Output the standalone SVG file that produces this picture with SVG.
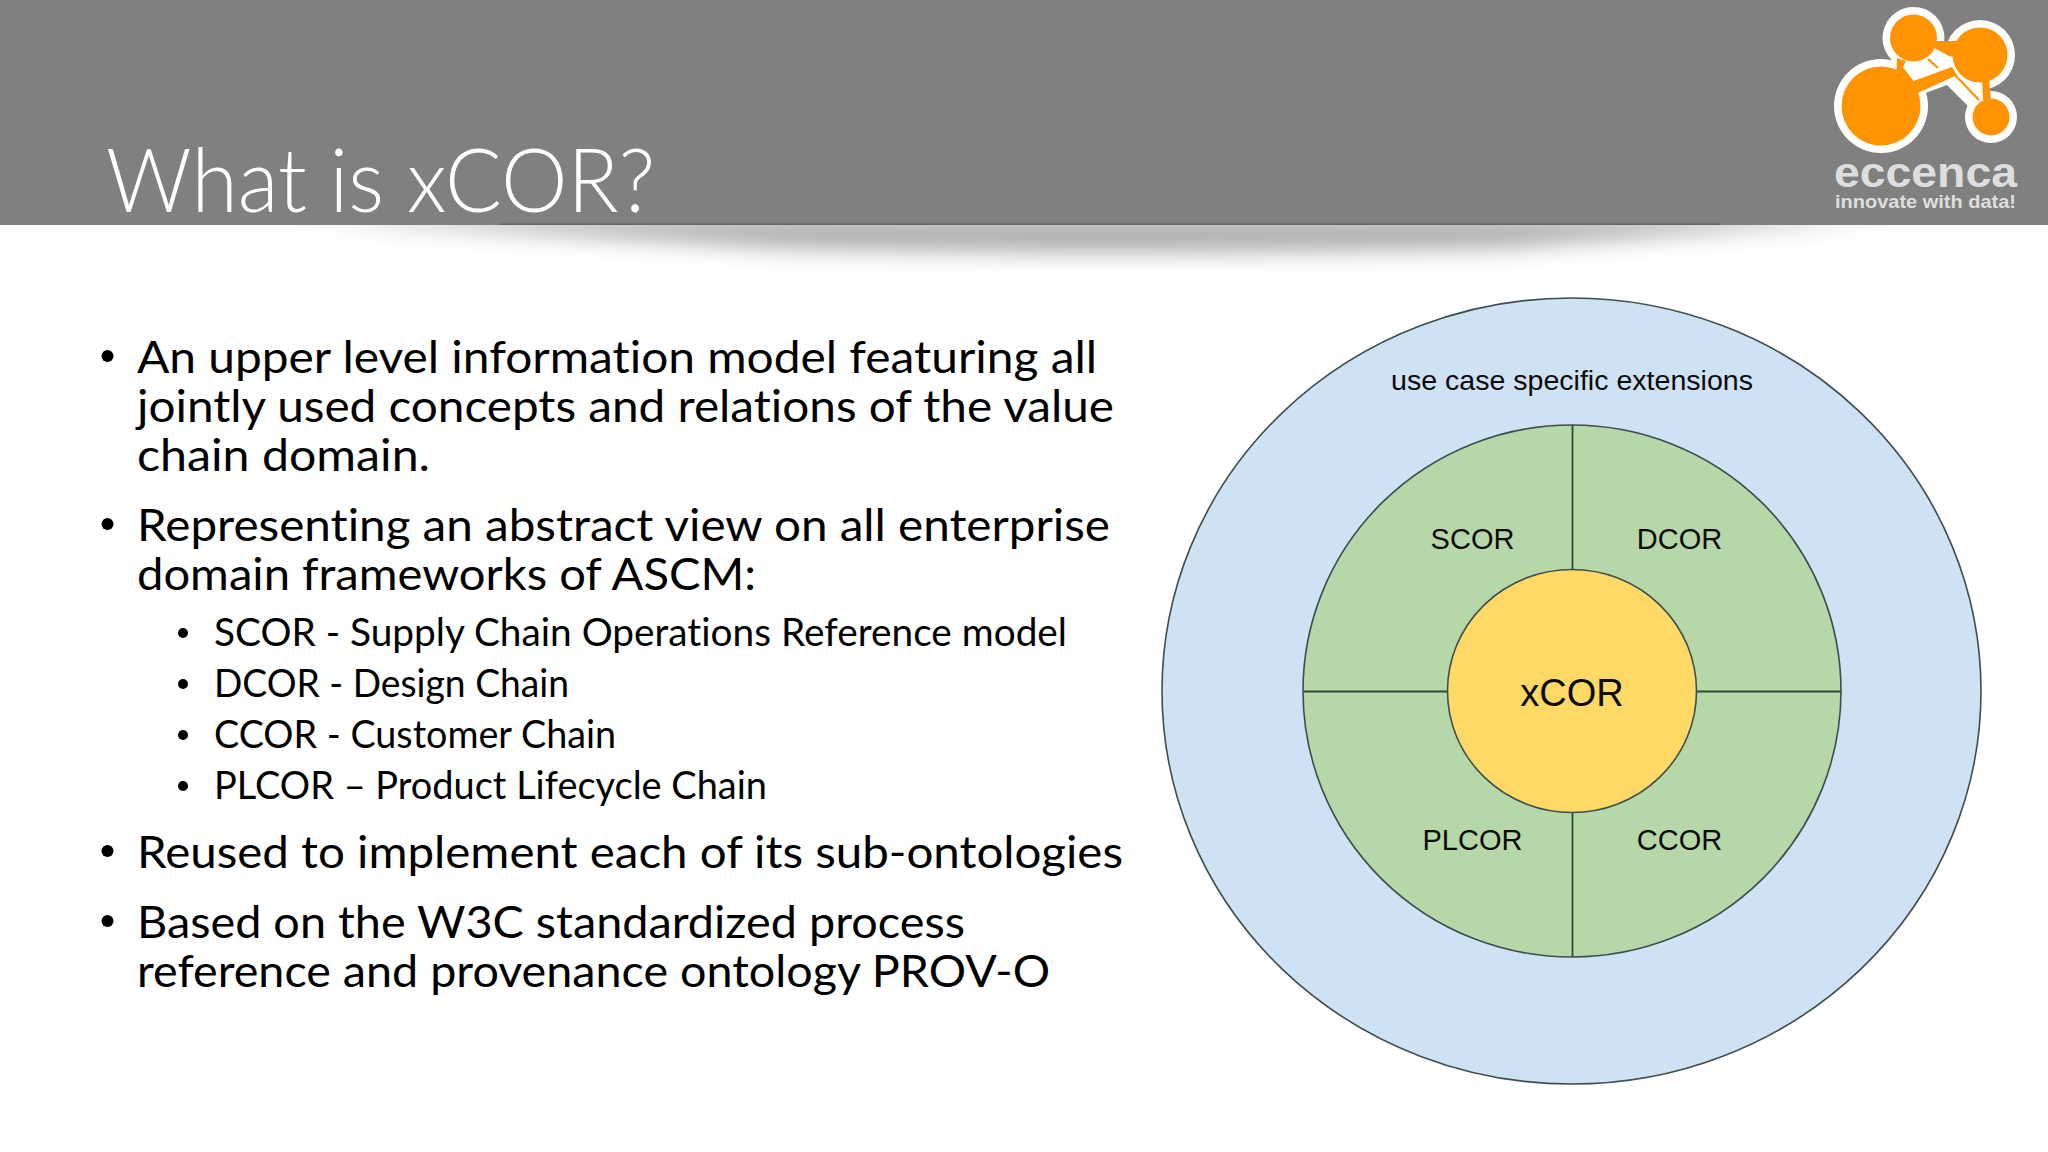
<svg xmlns="http://www.w3.org/2000/svg" width="2048" height="1152" viewBox="0 0 2048 1152">
<defs>
<filter id="blur" x="-10%" y="-200%" width="120%" height="500%"><feGaussianBlur stdDeviation="11"/></filter>
</defs>
<style>
text{font-variant-ligatures:none}
.t{font-family:Lato,"Liberation Sans",sans-serif;fill:#000}
.b{font-size:44px}
.s{font-size:39px}
.d{font-family:"Liberation Sans",Arial,sans-serif;fill:#0b0b0b;text-anchor:middle}
.q{font-size:29px}
.ring{stroke:#3f4d4f;stroke-width:1.6}
.div{stroke:#2f4a3a;stroke-width:1.8;fill:none}
.o{fill:#ff9300}
.w{fill:#fff}
.ol{stroke:#ff9300;stroke-width:2.200;fill:none}
</style>
<rect width="2048" height="1152" fill="#fff"/>
<path d="M300 218H1880L1500 248Q1100 256 780 248Z" fill="#000" fill-opacity=".32" filter="url(#blur)"/>
<rect id="header" width="2048" height="225" fill="#808080"/>
<rect x="500" y="223.500" width="1220" height="1.500" fill="#666"/>
<text id="title" x="106" y="212" font-family="Lato,'Liberation Sans',sans-serif" font-weight="300" font-size="89" fill="#fff" textLength="549" lengthAdjust="spacingAndGlyphs">What is xCOR?</text>

<g id="logo">
<circle class="w" cx="1881" cy="106" r="47"/><circle class="w" cx="1913.500" cy="38" r="31"/><circle class="w" cx="1980" cy="55" r="35"/><circle class="w" cx="1991" cy="117" r="26"/>
<path class="w" d="M1893 58L1930 45L1950 42L1975 70L2000 105L1985 125L1967 105L1947 85L1920 95L1905 105Z"/>
<path class="o" d="M1897 58L1906 61L1903 67L1913.500 81L1952 67L1957 75L1920 92L1895 105Z"/>
<path class="o" d="M1932 41L1956 41L1958 57L1950 56.500L1935 48.500Z"/>
<path class="o" d="M1982 78L1989 78L1991 100L1983 100Z"/>
<circle class="o" cx="1881" cy="106" r="39.500"/><circle class="o" cx="1913.500" cy="38" r="23.500"/><circle class="o" cx="1980" cy="55" r="27.500"/><circle class="o" cx="1991" cy="117" r="18.500"/>
<path class="ol" d="M1928 59L1938 68M1955 75L1979 100"/>
<text x="1834" y="187" font-family="'Liberation Sans',Arial,sans-serif" font-weight="700" font-size="42" fill="#dedede" textLength="183" lengthAdjust="spacingAndGlyphs">eccenca</text>
<text x="1835" y="208" font-family="'Liberation Sans',Arial,sans-serif" font-weight="700" font-size="18.500" fill="#dedede" textLength="181" lengthAdjust="spacingAndGlyphs">innovate with data!</text>
</g>

<g id="bullets">
<circle cx="107.500" cy="356" r="6"/><circle cx="107.500" cy="524" r="6"/><circle cx="107.500" cy="851" r="6"/><circle cx="107.500" cy="921" r="6"/>
<circle cx="183" cy="633" r="5"/><circle cx="183" cy="684" r="5"/><circle cx="183" cy="735" r="5"/><circle cx="183" cy="786" r="5"/>
<text class="t b" x="137" y="373" textLength="960" lengthAdjust="spacingAndGlyphs">An upper level information model featuring all</text>
<text class="t b" x="137" y="422" textLength="977" lengthAdjust="spacingAndGlyphs">jointly used concepts and relations of the value</text>
<text class="t b" x="137" y="471" textLength="293" lengthAdjust="spacingAndGlyphs">chain domain.</text>
<text class="t b" x="137" y="541" textLength="973" lengthAdjust="spacingAndGlyphs">Representing an abstract view on all enterprise</text>
<text class="t b" x="137" y="590" textLength="619" lengthAdjust="spacingAndGlyphs">domain frameworks of ASCM:</text>
<text class="t s" x="214" y="646" textLength="853" lengthAdjust="spacingAndGlyphs">SCOR - Supply Chain Operations Reference model</text>
<text class="t s" x="214" y="697" textLength="355" lengthAdjust="spacingAndGlyphs">DCOR - Design Chain</text>
<text class="t s" x="214" y="748" textLength="402" lengthAdjust="spacingAndGlyphs">CCOR - Customer Chain</text>
<text class="t s" x="214" y="799" textLength="553" lengthAdjust="spacingAndGlyphs">PLCOR – Product Lifecycle Chain</text>
<text class="t b" x="137" y="868" textLength="986" lengthAdjust="spacingAndGlyphs">Reused to implement each of its sub-ontologies</text>
<text class="t b" x="137" y="938" textLength="828" lengthAdjust="spacingAndGlyphs">Based on the W3C standardized process</text>
<text class="t b" x="137" y="987" textLength="913" lengthAdjust="spacingAndGlyphs">reference and provenance ontology PROV-O</text>
</g>

<g id="node-extensions">
<ellipse class="ring" cx="1571.500" cy="691" rx="409.500" ry="393" fill="#cfe2f3"/>
<text class="d" x="1572" y="390" font-size="27.500" textLength="362" lengthAdjust="spacingAndGlyphs">use case specific extensions</text>
</g>
<g id="node-ring">
<ellipse class="ring" cx="1572" cy="691" rx="269" ry="266" fill="#b6d7a8"/>
</g>
<g id="connectors">
<path class="div" d="M1572.500 425V570M1572.500 812V957M1304 691.500H1448M1696 691.500H1841"/>
</g>
<g id="node-scor"><text class="d q" x="1472.500" y="549">SCOR</text></g>
<g id="node-dcor"><text class="d q" x="1679.500" y="549">DCOR</text></g>
<g id="node-plcor"><text class="d q" x="1472.500" y="850">PLCOR</text></g>
<g id="node-ccor"><text class="d q" x="1679.500" y="850">CCOR</text></g>
<g id="node-xcor">
<ellipse class="ring" cx="1572" cy="691" rx="124.500" ry="121.500" fill="#ffd966"/>
<text class="d" x="1572" y="706" font-size="38">xCOR</text>
</g>
</svg>
